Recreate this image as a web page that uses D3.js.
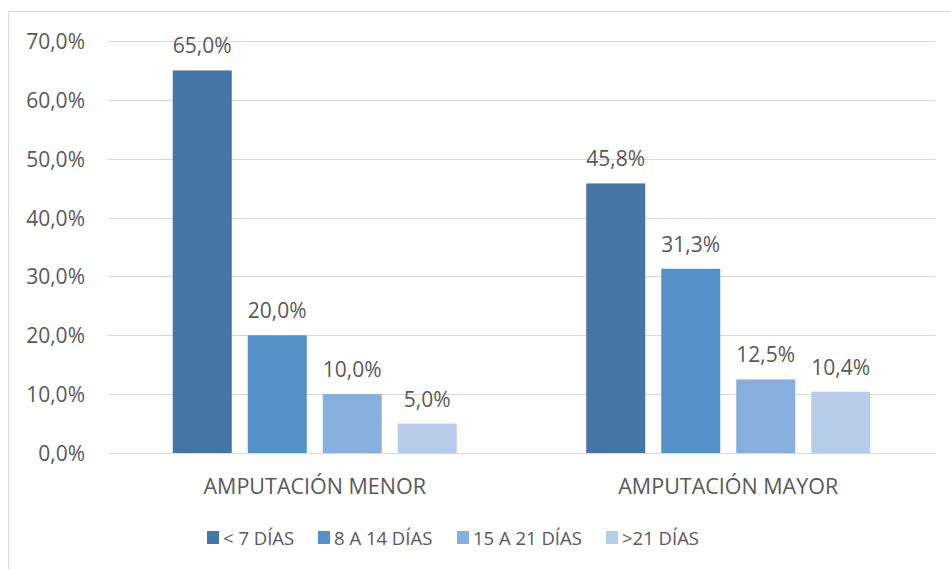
<!DOCTYPE html>
<html><head><meta charset="utf-8">
<script src="https://cdn.jsdelivr.net/npm/d3@7"></script>
<style>
body{margin:0;background:#fff;}
text{font-family:"Open Sans",sans-serif;fill:#595959;}
</style></head>
<body><svg id="c" width="951" height="569"></svg>
<script>
const categories = ["AMPUTACIÓN MENOR", "AMPUTACIÓN MAYOR"];
const seriesNames = ["< 7 DÍAS", "8 A 14 DÍAS", "15 A 21 DÍAS", ">21 DÍAS"];
const lt7 = [0.650, 0.458];
const d8to14 = [0.200, 0.313];
const d15to21 = [0.100, 0.125];
const gt21 = [0.050, 0.104];
const yTicks = [0, 0.1, 0.2, 0.3, 0.4, 0.5, 0.6, 0.7];
const colors = ["#4676a6", "#5591c9", "#86afdd", "#b7cce8"];
const seriesValues = [lt7, d8to14, d15to21, gt21];

const fmt = v => d3.format(".1f")(v * 100).replace(".", ",") + "%";
const svg = d3.select("#c");

svg.append("rect").attr("x", 8.5).attr("y", 11.5).attr("width", 1000).attr("height", 1000)
  .attr("fill", "none").attr("stroke", "#d9d9d9");

const y = d3.scaleLinear().domain([0, 0.7]).range([453, 41]);
const x0 = d3.scaleBand().domain(categories).range([108, 935]);
const gw = 284, pad = (x0.bandwidth() - gw) / 2;
const x1 = d3.scaleBand().domain(seriesNames).range([pad, pad + gw]).paddingInner(16 / 75);

// gridlines
svg.append("g").selectAll("line").data(yTicks).join("line")
  .attr("x1", 108).attr("x2", 935)
  .attr("y1", d => Math.round(y(d)) + 0.5).attr("y2", d => Math.round(y(d)) + 0.5)
  .attr("stroke", "#d9d9d9").attr("stroke-width", 1);

// y axis
const yAxis = d3.axisLeft(y).tickValues(yTicks).tickFormat(fmt).tickSize(0).tickPadding(0);
const ya = svg.append("g").attr("transform", "translate(85,0)").call(yAxis);
ya.select(".domain").remove();
ya.selectAll("text").attr("font-size", 21).attr("fill", "#595959")
  .style("font-family", '"Open Sans",sans-serif').attr("dy", "0.36em");

// bars
const groups = svg.append("g").selectAll("g").data(categories).join("g")
  .attr("transform", c => `translate(${x0(c)},0)`);
groups.each(function(c, ci) {
  const g = d3.select(this);
  const data = seriesNames.map((s, si) => ({s, si, v: seriesValues[si][ci]}));
  g.selectAll("rect").data(data).join("rect")
    .attr("x", d => x1(d.s)).attr("width", x1.bandwidth())
    .attr("y", d => y(d.v)).attr("height", d => y(0) - y(d.v))
    .attr("fill", d => colors[d.si]);
  g.selectAll("text").data(data).join("text")
    .attr("x", d => x1(d.s) + x1.bandwidth() / 2)
    .attr("y", d => y(d.v) - 17)
    .attr("text-anchor", "middle").attr("font-size", 21)
    .text(d => fmt(d.v));
});

// category labels
svg.append("g").selectAll("text").data(categories).join("text")
  .attr("x", c => x0(c) + x0.bandwidth() / 2).attr("y", 494)
  .attr("text-anchor", "middle").attr("font-size", 21.5).text(c => c);

// legend
const legX = [207, 318, 457, 606];
const leg = svg.append("g").selectAll("g").data(seriesNames).join("g")
  .attr("transform", (d, i) => `translate(${legX[i]},0)`);
leg.append("rect").attr("x", 0).attr("y", 531).attr("width", 12).attr("height", 13)
  .attr("fill", (d, i) => colors[i]);
leg.append("text").attr("x", 16).attr("y", 545).attr("font-size", 18.5).text(d => d);
</script></body></html>
